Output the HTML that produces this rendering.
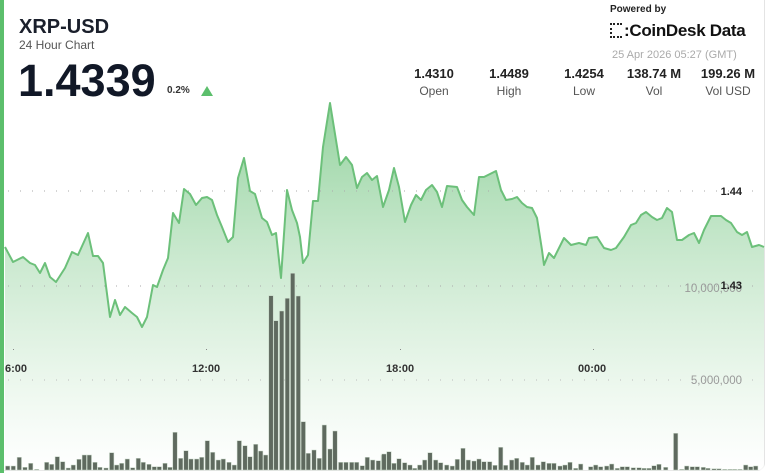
<!DOCTYPE html>
<html><head><meta charset="utf-8">
<style>
html,body{margin:0;padding:0;background:#fff;}
body{width:768px;height:473px;position:relative;overflow:hidden;font-family:"Liberation Sans",sans-serif;}
.card{position:absolute;left:0;top:0;width:764px;height:470px;border-right:1px solid #e4e4e4;border-bottom:1px solid #e8e8e8;border-radius:0 0 8px 0;}
.lb{position:absolute;left:0;top:0;width:4px;height:473px;background:#5cbf6c;}
.t{position:absolute;white-space:nowrap;}
.st{position:absolute;text-align:center;width:80px;}
.st b{display:block;font-size:13px;color:#222;}
.st span{display:block;font-size:12px;color:#555;margin-top:3px;}
svg{position:absolute;left:0;top:0;}
</style></head><body>
<div class="card"></div>
<svg id="s" width="768" height="473"></svg>
<div class="lb"></div>
<div class="t" style="left:19px;top:16px;font-size:20px;font-weight:bold;color:#1a1f2b;">XRP-USD</div>
<div class="t" style="left:19px;top:38px;font-size:12px;color:#555;">24 Hour Chart</div>
<div class="t" style="left:18px;top:55px;font-size:45px;font-weight:bold;color:#111827;">1.4339</div>
<div class="t" style="left:167px;top:85px;font-size:10px;font-weight:bold;color:#333;">0.2%</div>
<div class="t" style="left:201px;top:86px;width:0;height:0;border-left:6px solid transparent;border-right:6px solid transparent;border-bottom:10px solid #5cbf6c;"></div>
<div class="st" style="left:394px;top:66px;"><b>1.4310</b><span>Open</span></div>
<div class="st" style="left:469px;top:66px;"><b>1.4489</b><span>High</span></div>
<div class="st" style="left:544px;top:66px;"><b>1.4254</b><span>Low</span></div>
<div class="st" style="left:614px;top:66px;"><b>138.74 M</b><span>Vol</span></div>
<div class="st" style="left:688px;top:66px;"><b>199.26 M</b><span>Vol USD</span></div>
<div class="t" style="left:610px;top:4px;font-size:10px;font-weight:bold;color:#222;">Powered by</div>
<div class="t" style="left:610px;top:23px;width:12px;height:15px;border:2px dotted #222;border-right:none;box-sizing:border-box;"></div>
<div class="t" style="left:624px;top:21px;font-size:17px;font-weight:bold;color:#111;letter-spacing:-0.3px;">:CoinDesk Data</div>
<div class="t" style="left:612px;top:49px;font-size:11px;color:#aaa;">25 Apr 2026 05:27 (GMT)</div>
<script>
var P=[[5,247],[13,262],[23,257],[30,263],[35,265],[40,273],[45,263],[50,277],[56,282],[65,268],[72,252],[78,255],[88,233],[93,256],[98,256],[103,263],[110,317],[115,300],[120,315],[125,307],[132,313],[137,317],[142,327],[147,317],[153,285],[157,287],[163,270],[168,258],[173,213],[179,223],[184,189],[190,194],[196,205],[202,198],[207,197],[212,200],[217,215],[222,227],[228,242],[233,237],[238,178],[244,158],[250,191],[255,194],[262,218],[267,222],[272,235],[276,233],[281,278],[287,190],[292,210],[297,223],[300,237],[303,263],[308,255],[313,201],[318,201],[323,147],[330,103],[340,165],[346,157],[352,165],[357,188],[362,177],[367,173],[372,180],[377,176],[383,207],[389,190],[394,168],[399,187],[405,222],[411,205],[416,195],[421,200],[426,190],[432,185],[437,192],[442,207],[447,186],[457,187],[462,200],[467,207],[474,215],[479,177],[484,177],[496,171],[501,190],[506,200],[512,199],[517,197],[522,203],[527,207],[532,208],[537,218],[542,250],[544,265],[549,253],[554,258],[564,238],[571,245],[579,243],[586,245],[589,238],[597,237],[604,248],[611,250],[616,248],[624,237],[631,225],[636,223],[641,215],[646,212],[652,217],[657,220],[662,218],[667,208],[672,212],[677,240],[682,240],[689,235],[694,233],[699,243],[704,230],[711,216],[721,216],[726,220],[731,223],[737,232],[742,235],[747,232],[752,247],[759,245],[764,247]];
var A=[23,708,40,708,58,682,75,712,92,700,110,718,140,697,155,703,172,680,188,695,205,714,220,705,237,688,253,675,268,675,285,697,300,712,318,714,335,668,350,705,365,700,382,687,398,713,415,685,430,697,447,703,463,710,478,710,495,700,510,712,525,607,542,685,558,662,573,687,590,687,605,682,622,632,638,667,655,690,670,687,687,697,703,705,718,632,735,647,750,680,767,643,782,663,797,675,813,197,828,272,845,243,862,205,878,130,895,198,910,575,925,670,942,660,958,685,973,585,990,657,1005,603,1022,697,1038,697,1055,697,1070,697,1087,707,1102,682,1118,690,1135,692,1150,675];
var B=[0,672,15,665,30,700,45,686,62,698,78,705,92,715,107,705,122,690,138,668,155,690,170,698,188,705,205,708,220,688,237,655,253,690,270,693,285,687,300,695,317,695,333,706,350,652,365,706,383,690,398,685,415,697,430,705,445,682,462,705,478,695,495,700,510,700,528,708,543,705,558,697,575,715,590,702,620,710,635,705,650,710,668,708,683,702,700,715,715,710,730,710,748,713,765,713,780,715,795,715,810,707,825,703,845,712,875,610,893,718,908,708,925,710,940,710,958,712,972,715,990,716,1005,716,1022,718,1038,718,1052,718,1068,718,1085,705,1100,710,1115,708];
var h='<defs><linearGradient id="g" gradientUnits="userSpaceOnUse" x1="0" y1="100" x2="0" y2="470"><stop offset="0" stop-color="#7fca8c" stop-opacity="0.85"/><stop offset="0.4" stop-color="#b5e0bc" stop-opacity="0.75"/><stop offset="0.75" stop-color="#e2f3e4" stop-opacity="0.7"/><stop offset="1" stop-color="#ffffff" stop-opacity="0.6"/></linearGradient></defs>';
var pts=P.map(function(p){return p[0]+','+p[1]}).join(' ');
h+='<polygon points="5,470 '+pts+' 764,470" fill="url(#g)"/>';
[[191,'#aaa'],[286,'#aaa'],[380,'#bbb']].forEach(function(g){h+='<line x1="8" x2="764" y1="'+g[0]+'" y2="'+g[0]+'" stroke="'+g[1]+'" stroke-width="1" stroke-dasharray="1,11"/>';});
[13,206,400,593].forEach(function(x){h+='<rect x="'+x+'" y="349" width="1" height="1" fill="#888"/>';});
function bars(arr,ox){for(var i=0;i<arr.length;i+=2){var x=ox+arr[i]/3,top=230+arr[i+1]/3;h+='<rect x="'+(x-2.2).toFixed(1)+'" y="'+top.toFixed(1)+'" width="4.4" height="'+(470-top).toFixed(1)+'" fill="#5f6a5f" stroke="#c8d8c8" stroke-width="0.5"/>';}}
bars(A,0);bars(B,384);
h+='<polyline points="'+pts+'" fill="none" stroke="#6cc07a" stroke-width="2" stroke-linejoin="round"/>';
var tx='font-family="Liberation Sans, sans-serif"';
h+='<text x="5" y="372" '+tx+' font-size="11" font-weight="bold" fill="#333">6:00</text>';
h+='<text x="192" y="372" '+tx+' font-size="11" font-weight="bold" fill="#333">12:00</text>';
h+='<text x="386" y="372" '+tx+' font-size="11" font-weight="bold" fill="#333">18:00</text>';
h+='<text x="578" y="372" '+tx+' font-size="11" font-weight="bold" fill="#333">00:00</text>';
h+='<text x="742" y="384" text-anchor="end" '+tx+' font-size="11.5" fill="#999">5,000,000</text>';
h+='<text x="742" y="292" text-anchor="end" '+tx+' font-size="11.5" fill="#999">10,000,000</text>';
h+='<text x="742" y="289" text-anchor="end" '+tx+' font-size="11" font-weight="bold" fill="#222">1.43</text>';
h+='<text x="742" y="195" text-anchor="end" '+tx+' font-size="11" font-weight="bold" fill="#222">1.44</text>';
document.getElementById('s').innerHTML=h;
</script>
</body></html>
